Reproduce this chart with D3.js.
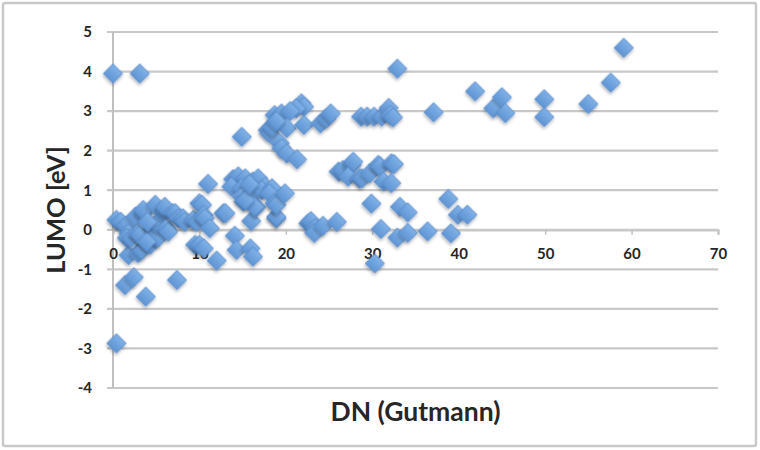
<!DOCTYPE html>
<html>
<head>
<meta charset="utf-8">
<script src="https://cdn.jsdelivr.net/npm/d3@7"></script>
<style>
  html, body { margin: 0; padding: 0; background: #fff; }
  svg { display: block; }
  text { font-family: Lato, "Open Sans", sans-serif; fill: #262626; }
</style>
</head>
<body>
<svg id="chart" width="760" height="450"></svg>
<script>
// ---- data ----
const dnValues = [
  0.0, 3.1, 14.9, 0.4,
  1.4, 2.4, 3.8, 7.4, 1.8, 2.9, 3.3,
  0.4, 0.9, 1.5, 1.8, 1.6, 2.1, 2.6, 2.9, 3.1, 3.5, 3.5, 4.3, 4.6, 4.7, 4.9, 4.9, 5.2, 5.1, 5.8, 6.0, 6.0, 6.2, 6.4, 6.9, 7.2, 7.6, 8.1, 8.3, 9.3, 9.7, 3.9, 4.0,
  10.0, 10.3, 10.5, 10.6, 11.2, 11.0, 9.5, 10.0, 10.5, 12.0, 12.8, 13.0,
  14.1, 14.3, 15.9, 16.2, 16.0, 16.6, 18.9, 18.9, 22.6,
  13.9, 14.5, 15.3, 16.2, 16.8, 17.6, 13.7, 14.9, 15.5, 14.9, 15.1, 16.2, 17.2, 18.4, 18.1, 18.7, 18.9, 19.9, 16.4, 15.3, 15.8,
  18.7, 19.5, 21.8, 22.1, 21.2, 20.5, 17.9, 18.1, 18.4, 20.1, 22.1, 19.3, 19.5, 20.1, 21.3, 18.9, 24.0, 24.7, 25.2,
  26.1, 26.6, 27.6, 27.8, 27.2, 28.5, 28.8, 29.7, 30.7, 30.9, 32.2, 32.5, 31.3, 32.2,
  22.9, 23.4, 23.3, 24.3, 25.9, 29.9, 31.0, 30.3, 33.2, 34.1, 32.9, 34.1, 36.4, 38.8, 39.1, 39.9, 41.0,
  28.7, 29.4, 30.2, 31.1, 31.9, 32.1, 32.4, 32.9, 37.1, 41.9, 44.0, 45.0, 45.4, 49.9, 49.9, 55.0, 57.6, 59.1
];
const lumoValues = [
  3.95, 3.95, 2.35, -2.87,
  -1.40, -1.20, -1.69, -1.27, -0.64, -0.59, -0.51,
  0.25, 0.20, 0.10, -0.09, -0.21, -0.21, 0.33, -0.09, -0.13, 0.42, 0.50, -0.38, 0.08, 0.08, 0.63, -0.17, -0.20, 0.16, 0.42, 0.50, 0.58, 0.04, -0.05, 0.42, 0.42, 0.29, 0.29, 0.20, 0.25, 0.20, -0.30, 0.20,
  0.67, 0.63, 0.37, 0.29, 0.04, 1.16, -0.38, -0.38, -0.47, -0.78, 0.42, 0.42,
  -0.15, -0.51, -0.47, -0.68, 0.22, 0.58, 0.29, 0.33, 0.16,
  1.28, 1.35, 1.30, 1.22, 1.30, 1.09, 1.09, 1.05, 0.92, 0.84, 0.71, 0.92, 1.00, 1.05, 0.92, 0.67, 0.63, 0.92, 0.58, 0.75, 1.15,
  2.90, 2.94, 3.20, 3.11, 3.07, 3.00, 2.52, 2.44, 2.60, 2.57, 2.65, 2.19, 2.06, 1.93, 1.78, 2.75, 2.69, 2.82, 2.94,
  1.47, 1.51, 1.64, 1.72, 1.34, 1.30, 1.30, 1.43, 1.64, 1.60, 1.68, 1.66, 1.22, 1.18,
  0.22, 0.04, -0.08, 0.10, 0.20, 0.66, 0.02, -0.85, 0.58, 0.44, -0.20, -0.08, -0.04, 0.78, -0.09, 0.38, 0.38,
  2.86, 2.86, 2.86, 2.86, 3.08, 2.90, 2.84, 4.07, 2.97, 3.50, 3.07, 3.35, 2.95, 3.30, 2.85, 3.18, 3.72, 4.60
];
const xTickValues = [0, 10, 20, 30, 40, 50, 60, 70];
const yTickValues = [-4, -3, -2, -1, 0, 1, 2, 3, 4, 5];
const xTitle = "DN (Gutmann)";
const yTitle = "LUMO [eV]";

// ---- drawing ----
const svg = d3.select("#chart");
const W = 760, H = 450;
const plain = d => String(d);   // hyphen-minus, as in the reference

// outer frame
svg.append("rect")
  .attr("x", 3).attr("y", 3).attr("width", W - 7).attr("height", H - 7)
  .attr("rx", 2)
  .attr("fill", "#ffffff").attr("stroke", "#c9c9c9").attr("stroke-width", 2.5);

const defs = svg.append("defs");
const f = defs.append("filter").attr("id", "shadow")
  .attr("x", "-50%").attr("y", "-50%").attr("width", "200%").attr("height", "200%");
f.append("feDropShadow").attr("dx", 1.2).attr("dy", 1.8).attr("stdDeviation", 1.4)
  .attr("flood-color", "#000").attr("flood-opacity", 0.3);
const grad = defs.append("linearGradient").attr("id", "mk")
  .attr("x1", "0").attr("y1", "0").attr("x2", "0").attr("y2", "1");
grad.append("stop").attr("offset", "0%").attr("stop-color", "#80b1e7");
grad.append("stop").attr("offset", "100%").attr("stop-color", "#5f95d4");

const x = d3.scaleLinear().domain([0, 70]).range([113, 718]);
const y = d3.scaleLinear().domain([-4, 5]).range([388, 32]);

// horizontal gridlines
svg.append("g").selectAll("line").data(yTickValues).join("line")
  .attr("x1", x(0) - 6).attr("x2", x(70))
  .attr("y1", d => y(d)).attr("y2", d => y(d))
  .attr("stroke", "#c8c8c8").attr("stroke-width", 2.2);

// vertical axis line
svg.append("line")
  .attr("x1", x(0)).attr("x2", x(0)).attr("y1", y(5)).attr("y2", y(-4))
  .attr("stroke", "#c0c0c0").attr("stroke-width", 2);

// y axis labels
const yAxis = svg.append("g").attr("transform", `translate(${x(0)},0)`)
  .call(d3.axisLeft(y).tickValues(yTickValues).tickSize(0).tickPadding(21).tickFormat(plain));
yAxis.select(".domain").remove();
yAxis.selectAll("text").attr("font-size", 15).attr("font-weight", 700)
  .attr("font-family", "Lato, sans-serif").attr("fill", "#222");

// x axis at y = 0
const xAxis = svg.append("g").attr("transform", `translate(0,${y(0)})`)
  .call(d3.axisBottom(x).tickValues(xTickValues).tickSize(5).tickPadding(14).tickFormat(plain));
xAxis.select(".domain").attr("stroke", "#c8c8c8").attr("stroke-width", 2.2);
xAxis.selectAll(".tick line").attr("stroke", "#c0c0c0").attr("stroke-width", 1.5);
xAxis.selectAll("text").attr("font-size", 15).attr("font-weight", 700)
  .attr("font-family", "Lato, sans-serif").attr("fill", "#222");

// points
const pts = dnValues.map((d, i) => ({ dn: d, lumo: lumoValues[i] }));
const sym = d3.symbol().type(d3.symbolSquare).size(185);
svg.append("g").selectAll("path").data(pts).join("path")
  .attr("d", sym)
  .attr("transform", d => `translate(${x(d.dn)},${y(d.lumo)}) rotate(45)`)
  .attr("fill", "url(#mk)")
  .attr("stroke", "#5a8dcc").attr("stroke-width", 0.8)
  .attr("filter", "url(#shadow)");

// titles
svg.append("text")
  .attr("x", (x(0) + x(70)) / 2).attr("y", 421)
  .attr("text-anchor", "middle")
  .attr("font-size", 26.5).attr("font-weight", 700)
  .text(xTitle);

svg.append("text")
  .attr("transform", `translate(65,${(y(5) + y(-4)) / 2}) rotate(-90)`)
  .attr("text-anchor", "middle")
  .attr("font-size", 25.5).attr("font-weight", 700)
  .text(yTitle);
</script>
</body>
</html>
